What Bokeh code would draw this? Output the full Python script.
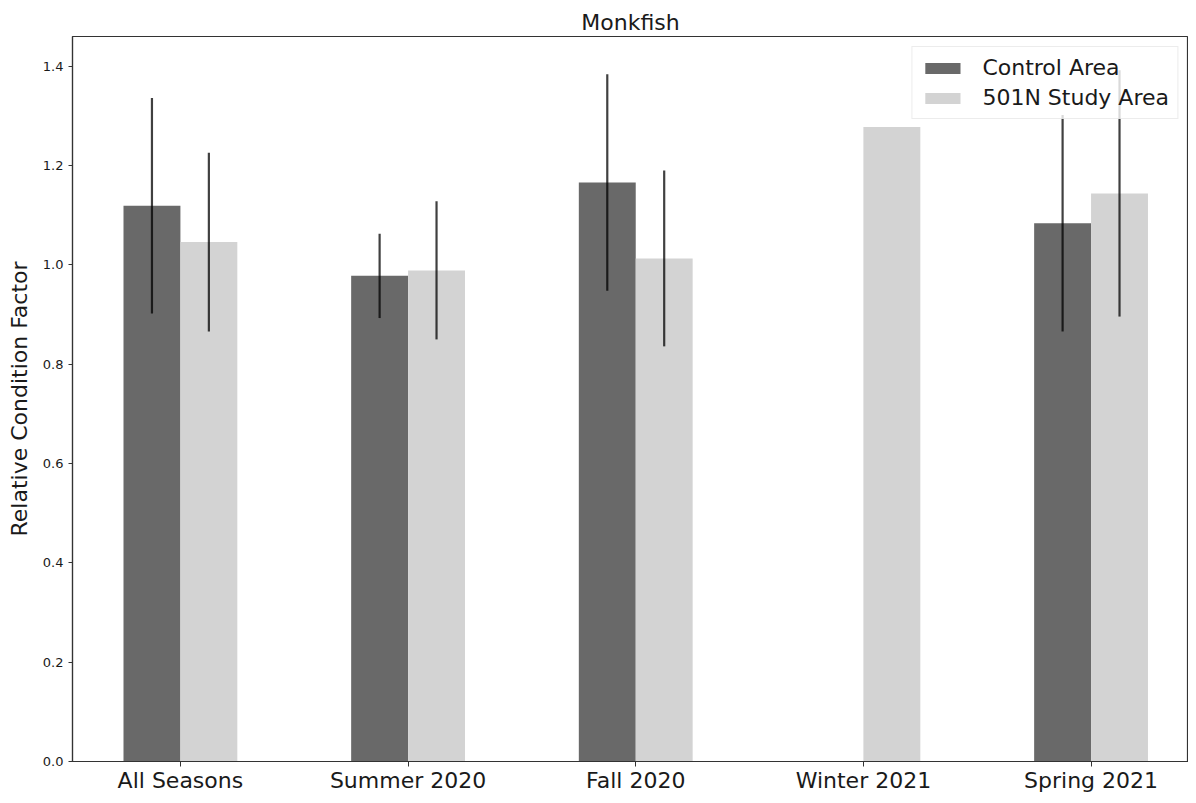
from bokeh.plotting import figure
from bokeh.models import (ColumnDataSource, FixedTicker, PrintfTickFormatter, Range1d,
                          Legend, LegendItem)
from bokeh.transform import dodge
from bokeh.embed import file_html
from bokeh.resources import INLINE
import math

# ---- data ----
seasons = ["All Seasons", "Summer 2020", "Fall 2020", "Winter 2021", "Spring 2021"]
control_mean = [1.119, 0.978, 1.166, float("nan"), 1.084]
control_err = [0.217, 0.085, 0.218, float("nan"), 0.218]
study_mean = [1.046, 0.989, 1.013, 1.278, 1.144]
study_err = [0.180, 0.139, 0.177, float("nan"), 0.248]
y_ticks = [0.0, 0.2, 0.4, 0.6, 0.8, 1.0, 1.2, 1.4]

FONT = "DejaVu Sans"
DARK = "#696969"
LIGHT = "#d3d3d3"
TXT = "#1a1a1a"


def build(means, errs):
    xs, tops, lo, hi, ex = [], [], [], [], []
    for i, (m, e) in enumerate(zip(means, errs)):
        if not math.isnan(m):
            xs.append(i)
            tops.append(m)
            if not math.isnan(e):
                ex.append(i)
                lo.append(m - e)
                hi.append(m + e)
    return (ColumnDataSource(dict(x=xs, top=tops)),
            ColumnDataSource(dict(x=ex, lo=lo, hi=hi)))


c_bar, c_err = build(control_mean, control_err)
s_bar, s_err = build(study_mean, study_err)

p = figure(width=1188, height=795, output_backend="svg", toolbar_location=None,
           x_range=Range1d(-0.474, 4.428), y_range=Range1d(0, 1.46),
           min_border_left=72, min_border_right=0, min_border_top=36, min_border_bottom=10)

r1 = p.vbar(x=dodge("x", -0.125, range=p.x_range), top="top", width=0.25, source=c_bar,
            fill_color=DARK, line_color=None)
r2 = p.vbar(x=dodge("x", 0.125, range=p.x_range), top="top", width=0.25, source=s_bar,
            fill_color=LIGHT, line_color=None)

for src, off in ((c_err, -0.125), (s_err, 0.125)):
    p.segment(x0=dodge("x", off, range=p.x_range), x1=dodge("x", off, range=p.x_range),
              y0="lo", y1="hi", source=src, line_color="black", line_alpha=0.75,
              line_width=2.2)

p.title.text = "Monkfish"
p.title.align = "center"
p.title.text_font = FONT
p.title.text_font_size = "22px"
p.title.text_font_style = "normal"
p.title.text_color = TXT
p.title.standoff = 4

p.xgrid.visible = False
p.ygrid.visible = False
p.outline_line_color = "#333333"
p.outline_line_width = 1.2

xa = p.xaxis[0]
xa.ticker = FixedTicker(ticks=list(range(len(seasons))))
xa.major_label_overrides = {i: s for i, s in enumerate(seasons)}
xa.major_label_text_font = FONT
xa.major_label_text_font_size = "22px"
xa.major_label_text_color = TXT
xa.major_label_standoff = 1
xa.major_tick_out = 5
xa.major_tick_in = 0
xa.minor_tick_out = 0
xa.minor_tick_in = 0
xa.axis_label_standoff = 0
xa.axis_line_color = "#333333"
xa.axis_line_width = 1.2
xa.major_tick_line_color = "#333333"

ya = p.yaxis[0]
ya.ticker = FixedTicker(ticks=y_ticks)
ya.formatter = PrintfTickFormatter(format="%.1f")
ya.major_label_text_font = FONT
ya.major_label_text_font_size = "13px"
ya.major_label_text_color = TXT
ya.major_label_standoff = 5
ya.major_tick_out = 4
ya.major_tick_in = 0
ya.minor_tick_out = 0
ya.minor_tick_in = 0
ya.axis_line_color = "#333333"
ya.axis_line_width = 1.2
ya.major_tick_line_color = "#333333"
ya.axis_label = "Relative Condition Factor"
ya.axis_label_text_font = FONT
ya.axis_label_text_font_size = "22px"
ya.axis_label_text_font_style = "normal"
ya.axis_label_text_color = TXT
ya.axis_label_standoff = 8

legend = Legend(items=[LegendItem(label="Control Area", renderers=[r1]),
                       LegendItem(label="501N Study Area", renderers=[r2])],
                location="top_right")
legend.label_text_font = FONT
legend.label_text_font_size = "22px"
legend.label_text_color = TXT
legend.glyph_width = 44
legend.glyph_height = 14
legend.label_standoff = 18
legend.spacing = 5
legend.padding = 8
legend.margin = 10
legend.border_line_color = "#d9d9d9"
legend.border_line_width = 1
legend.background_fill_alpha = 0.8
p.add_layout(legend)

open("out.html", "w").write(file_html(p, INLINE))
